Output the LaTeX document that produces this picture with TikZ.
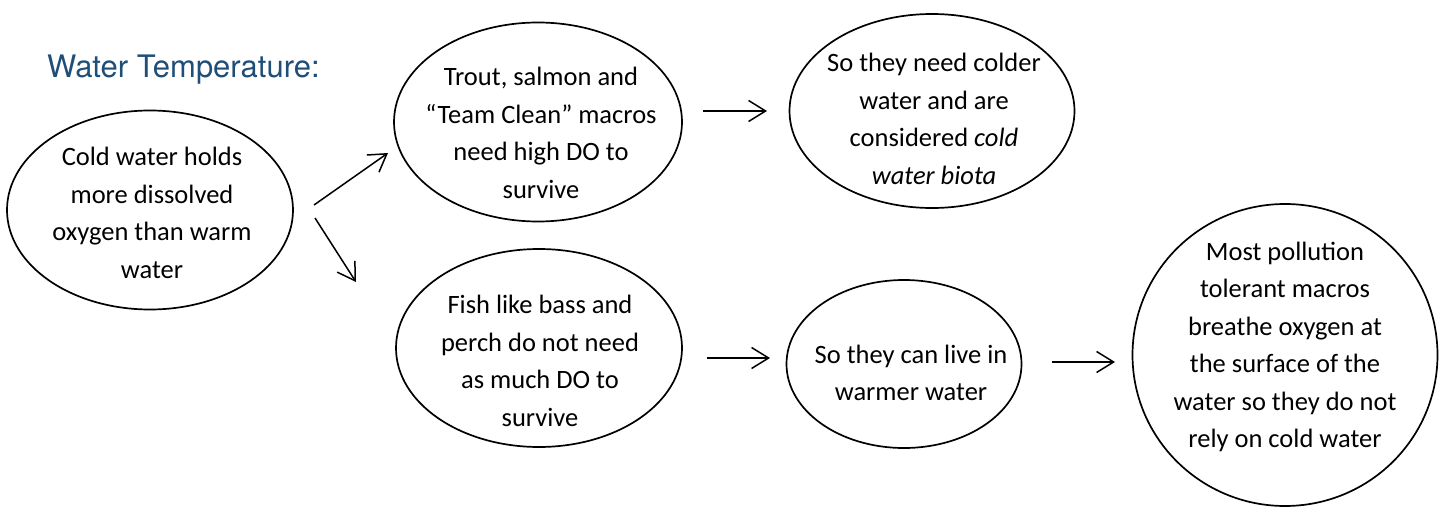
\documentclass[tikz,border=0pt]{standalone}
\usepackage{fontspec}
\setmainfont{Carlito}
\newfontfamily\titlefont{TeX Gyre Heros}
\usetikzlibrary{shapes.geometric,arrows.meta}
\definecolor{titleblue}{RGB}{31,78,121}
\begin{document}
\begin{tikzpicture}[x=1pt, y=-1pt,
   base_node_style/.style={draw=black, line width=1.7pt, inner sep=0pt, ellipse},
   text_style/.style={align=center, font=\fontsize{26.5}{37.5}\selectfont},
   edge_style/.style={-{Straight Barb[length=17pt, width=21pt, line width=1.5pt]}, line width=1.5pt, draw=black}]

    \useasboundingbox (0,0) rectangle (1445,508);

    \node[text=titleblue, font=\titlefont\fontsize{31}{34}\selectfont, anchor=west, inner sep=0pt] (title) at (47,70) {Water Temperature:};

    % bubbles
    \node[base_node_style, minimum width=286pt, minimum height=199pt] (cold) at (150,210) {};
    \node[base_node_style, minimum width=288pt, minimum height=199pt] (trout) at (538,122) {};
    \node[base_node_style, minimum width=285pt, minimum height=194pt] (colder) at (932,111) {};
    \node[base_node_style, minimum width=286pt, minimum height=198pt] (bass) at (539,348) {};
    \node[base_node_style, minimum width=235pt, minimum height=168pt] (warmer) at (904,364) {};
    \node[base_node_style, minimum width=305pt, minimum height=302pt] (tolerant) at (1285,355) {};

    % texts
    \node[text_style] (cold_t) at (152,213) {Cold water holds\\more dissolved\\oxygen than warm\\water};
    \node[text_style] (trout_t) at (541,133) {Trout, salmon and\\``Team Clean'' macros\\need high DO to\\survive};
    \node[text_style] (colder_t) at (934,119) {So they need colder\\water and are\\considered \textit{cold}\\\textit{water biota}};
    \node[text_style] (bass_t) at (540,361) {Fish like bass and\\perch do not need\\as much DO to\\survive};
    \node[text_style] (warmer_t) at (911,373) {So they can live in\\warmer water};
    \node[text_style] (tolerant_t) at (1285,347) {Most pollution\\tolerant macros\\breathe oxygen at\\the surface of the\\water so they do not\\rely on cold water};

    % arrows
    \coordinate (up_s) at (314,205);
    \coordinate (up_e) at (388,153);
    \coordinate (down_s) at (315,218);
    \coordinate (down_e) at (356,282);
    \coordinate (top_s) at (703,111);
    \coordinate (top_e) at (767,111);
    \coordinate (mid_s) at (707,358);
    \coordinate (mid_e) at (770,358);
    \coordinate (right_s) at (1052,362);
    \coordinate (right_e) at (1115,362);

    \draw [edge_style] (up_s) -- (up_e);
    \draw [edge_style] (down_s) -- (down_e);
    \draw [edge_style] (top_s) -- (top_e);
    \draw [edge_style] (mid_s) -- (mid_e);
    \draw [edge_style] (right_s) -- (right_e);
\end{tikzpicture}
\end{document}
